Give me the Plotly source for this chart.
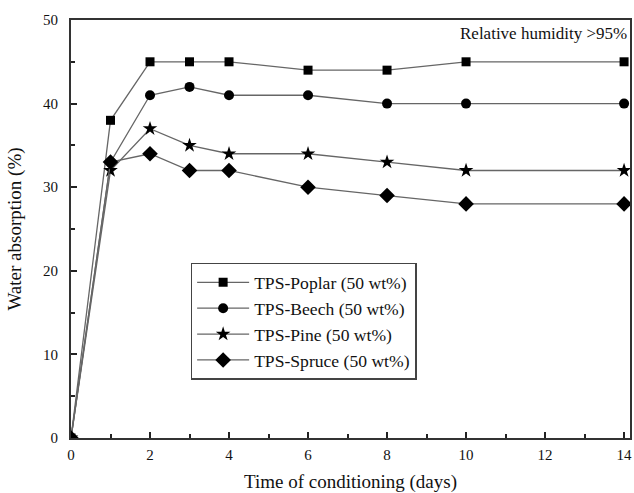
import plotly.graph_objects as go

days = [0, 1, 2, 3, 4, 6, 8, 10, 14]
poplar = [0, 38, 45, 45, 45, 44, 44, 45, 45]
beech = [0, 33, 41, 42, 41, 41, 40, 40, 40]
pine = [0, 32, 37, 35, 34, 34, 33, 32, 32]
spruce = [0, 33, 34, 32, 32, 30, 29, 28, 28]

series = [
    ("TPS-Poplar (50 wt%)", poplar, "square", 9),
    ("TPS-Beech (50 wt%)", beech, "circle", 10),
    ("TPS-Pine (50 wt%)", pine, "star", 11),
    ("TPS-Spruce (50 wt%)", spruce, "diamond", 12),
]

fig = go.Figure()
for name, vals, sym, sz in series:
    fig.add_trace(go.Scatter(
        x=days, y=vals, name=name, mode="lines+markers",
        line=dict(color="#666666", width=1.3),
        marker=dict(symbol=sym, size=sz, color="black"),
    ))

font_family = "Liberation Serif"
fig.update_layout(
    width=634, height=493,
    margin=dict(l=71, r=2, t=20, b=55),
    paper_bgcolor="white", plot_bgcolor="white",
    font=dict(family=font_family, size=15, color="#111"),
    showlegend=True,
    legend=dict(
        x=0.214, y=0.419, xanchor="left", yanchor="top",
        bordercolor="#444", borderwidth=1.5, bgcolor="white",
        font=dict(family=font_family, size=17.6, color="#111"),
        tracegroupgap=0, itemwidth=52,
    ),
    xaxis=dict(
        range=[0, 14.15], tickmode="array", tickvals=[0, 2, 4, 6, 8, 10, 12, 14],
        ticks="inside", ticklen=6, tickwidth=1.5, tickcolor="#222",
        minor=dict(tickvals=[1, 3, 5, 7, 9, 11, 13], ticks="inside", ticklen=4, tickwidth=1.5, tickcolor="#222"),
        showline=True, linecolor="#333", linewidth=2, mirror=True,
        showgrid=False, zeroline=False,
        title=dict(text="Time of conditioning (days)", font=dict(size=19, family=font_family), standoff=14),
        tickfont=dict(size=15), ticklabelstandoff=2,
    ),
    yaxis=dict(
        range=[0, 50], tickmode="array", tickvals=[0, 10, 20, 30, 40, 50],
        ticks="inside", ticklen=6, tickwidth=1.5, tickcolor="#222",
        minor=dict(tickvals=[5, 15, 25, 35, 45], ticks="inside", ticklen=4, tickwidth=1.5, tickcolor="#222"),
        showline=True, linecolor="#333", linewidth=2, mirror=True,
        showgrid=False, zeroline=False,
        title=dict(text="Water absorption (%)", font=dict(size=19, family=font_family), standoff=16),
        tickfont=dict(size=15), ticklabelstandoff=8,
    ),
    annotations=[dict(
        text="Relative humidity >95%", x=1, y=1, xref="paper", yref="paper",
        xanchor="right", yanchor="top", xshift=-1, yshift=-2, showarrow=False,
        font=dict(family=font_family, size=17, color="#111"),
    )],
)

fig.write_html("out.html")
